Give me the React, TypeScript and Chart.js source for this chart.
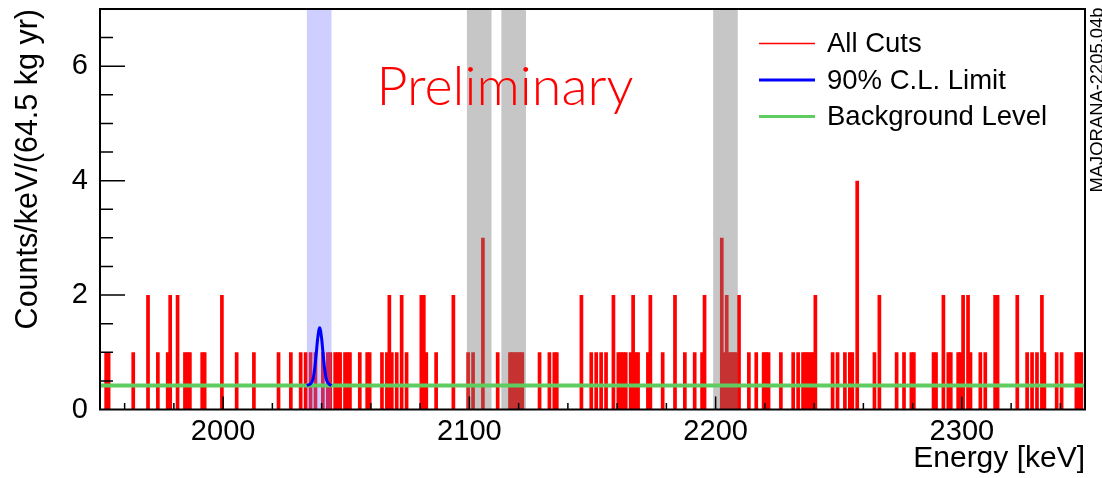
import React, { useEffect, useRef } from 'react';
import { Chart, registerables } from 'chart.js';

Chart.register(...registerables);

// ---------- data ----------
const xMin = 1950;
const xMax = 2350;
const yMin = 0;
const yMax = 7;
const xTickLabels = [2000, 2100, 2200, 2300];
const yTickLabels = [0, 2, 4, 6];

// energies (keV, lower bin edge) of 1-keV bins holding 1, 2, 3, 4 counts
const oneCountBins = [
  1952, 1953, 1963, 1973, 1977, 1984, 1985, 1986, 1991, 1992, 2005, 2012, 2022, 2027, 2031,
  2033, 2035, 2037, 2040, 2042, 2043, 2045, 2046, 2047, 2049, 2050, 2051, 2055, 2058, 2059,
  2064, 2066, 2068, 2070, 2074, 2082, 2086, 2099, 2101, 2111, 2116, 2117, 2118, 2119, 2120,
  2121, 2128, 2132, 2134, 2135, 2149, 2151, 2153, 2155, 2160, 2161, 2162, 2163, 2165, 2167,
  2168, 2172, 2178, 2187, 2191, 2194, 2203, 2205, 2206, 2207, 2208, 2213, 2216, 2219, 2220,
  2221, 2226, 2231, 2233, 2235, 2236, 2237, 2238, 2239, 2247, 2249, 2252, 2254, 2255, 2264,
  2273, 2276, 2279, 2280, 2288, 2289, 2294, 2295, 2298, 2299, 2303, 2307, 2309, 2326, 2328,
  2330, 2333, 2338, 2340, 2346, 2347, 2348,
];
const twoCountBins = [
  1969, 1978, 1981, 1999, 2067, 2072, 2080, 2081, 2093, 2145, 2158, 2166, 2173, 2183, 2195,
  2204, 2209, 2240, 2266, 2292, 2300, 2302, 2313, 2314, 2322, 2332,
];
const threeCountBins = [2105, 2202];
const fourCountBins = [2257];

const backgroundLevel = 0.42;

// 90% C.L. limit curve
const limitEnergies = [2034.0, 2035.5, 2036.5, 2037.2, 2037.8, 2038.4, 2039.2, 2040.0, 2040.6, 2041.2, 2041.9, 2042.9, 2044.0];
const limitCounts = [0.42, 0.45, 0.53, 0.72, 0.97, 1.24, 1.43, 1.24, 0.97, 0.72, 0.53, 0.45, 0.42];

const signalWindows = [[2034, 2044]];
const excludedWindows = [[2099, 2109], [2113, 2123], [2199, 2209]];

const legendLabels = ['All Cuts', '90% C.L. Limit', 'Background Level'];
const xTitle = 'Energy [keV]';
const yTitle = 'Counts/keV/(64.5 kg yr)';
const watermark = 'Preliminary';
const plotId = 'MAJORANA-2205.04b';

// ---------- styles ----------
const FONT = '"Liberation Sans", Arial, Helvetica, sans-serif';
const RED = '#ff0000';
const BLUE = '#0000ff';
const GREEN = '#5fcc5f';
const SIGNAL_FILL = 'rgba(120,120,255,0.36)';
const EXCLUDED_FILL = 'rgba(120,120,120,0.42)';

function buildHistogram() {
  const counts: Record<number, number> = {};
  oneCountBins.forEach((e) => (counts[e] = 1));
  twoCountBins.forEach((e) => (counts[e] = 2));
  threeCountBins.forEach((e) => (counts[e] = 3));
  fourCountBins.forEach((e) => (counts[e] = 4));
  const pts: { x: number; y: number }[] = [];
  for (let e = xMin; e < xMax; e++) {
    pts.push({ x: e + 0.5, y: counts[e] || 0 });
  }
  return pts;
}

export default function App() {
  const ref = useRef<HTMLCanvasElement | null>(null);

  useEffect(() => {
    const canvas = ref.current!;

    const bandsPlugin = {
      id: 'bands',
      afterDatasetDraw(chart: any, args: any) {
        if (args.index !== 0) return;
        const { ctx, chartArea, scales } = chart;
        const xs = scales.x;
        ctx.save();
        const drawBand = (w: number[], fill: string) => {
          const x1 = xs.getPixelForValue(w[0]);
          const x2 = xs.getPixelForValue(w[1]);
          ctx.fillStyle = fill;
          ctx.fillRect(x1, chartArea.top, x2 - x1, chartArea.bottom - chartArea.top);
        };
        signalWindows.forEach((w) => drawBand(w, SIGNAL_FILL));
        excludedWindows.forEach((w) => drawBand(w, EXCLUDED_FILL));
        ctx.restore();
      },
    };

    const decorPlugin = {
      id: 'decor',
      afterDraw(chart: any) {
        const { ctx, chartArea, scales } = chart;
        const xs = scales.x;
        const ys = scales.y;
        const { left, right, top, bottom } = chartArea;
        ctx.save();
        ctx.strokeStyle = '#000';
        ctx.lineWidth = 1.5;
        // x ticks
        ctx.beginPath();
        for (let v = 1960; v <= xMax; v += 20) {
          const px = xs.getPixelForValue(v);
          const len = v % 100 === 0 ? 13 : 6.5;
          ctx.moveTo(px, bottom);
          ctx.lineTo(px, bottom - len);
        }
        // y ticks
        for (let v = 0.5; v < yMax; v += 0.5) {
          const py = ys.getPixelForValue(v);
          const len = v % 2 === 0 ? 25 : 13;
          ctx.moveTo(left, py);
          ctx.lineTo(left + len, py);
        }
        ctx.stroke();
        // frame
        ctx.lineWidth = 2;
        ctx.strokeRect(left, top, right - left, bottom - top);

        // legend
        const rows = [43.5, 80, 116.5];
        const colors = [RED, BLUE, GREEN];
        const widths = [1.5, 3, 3];
        rows.forEach((y, i) => {
          ctx.beginPath();
          ctx.strokeStyle = colors[i];
          ctx.lineWidth = widths[i];
          ctx.moveTo(759, y);
          ctx.lineTo(815, y);
          ctx.stroke();
          ctx.fillStyle = '#000';
          ctx.font = `27.5px ${FONT}`;
          ctx.textAlign = 'left';
          ctx.textBaseline = 'middle';
          ctx.fillText(legendLabels[i], 827, y + 1);
        });

        // Preliminary
        const pf = (s: number) => `300 ${s}px Lato, "Open Sans", sans-serif`;
        ctx.font = pf(52);
        const w52 = ctx.measureText(watermark).width;
        const fs = (52 * 257) / w52;
        ctx.font = pf(fs);
        ctx.fillStyle = RED;
        ctx.textAlign = 'left';
        ctx.textBaseline = 'alphabetic';
        ctx.fillText(watermark, 376.5, 105);

        // plot id
        ctx.save();
        ctx.translate(1098, 100);
        ctx.rotate(-Math.PI / 2);
        ctx.font = `18.4px ${FONT}`;
        ctx.fillStyle = '#000';
        ctx.textAlign = 'center';
        ctx.textBaseline = 'middle';
        ctx.fillText(plotId, 0, 0);
        ctx.restore();
        ctx.restore();
      },
    };

    const chart = new Chart(canvas, {
      type: 'bar',
      data: {
        datasets: [
          {
            type: 'bar',
            label: legendLabels[0],
            data: buildHistogram(),
            backgroundColor: RED,
            borderWidth: 0,
            barPercentage: 1.5,
            categoryPercentage: 1,
            order: 3,
          } as any,
          {
            type: 'line',
            label: legendLabels[2],
            data: [
              { x: xMin, y: backgroundLevel },
              { x: xMax, y: backgroundLevel },
            ],
            borderColor: GREEN,
            borderWidth: 4,
            pointRadius: 0,
            fill: false,
            order: 2,
          } as any,
          {
            type: 'line',
            label: legendLabels[1],
            data: limitEnergies.map((e, i) => ({ x: e, y: limitCounts[i] })),
            borderColor: BLUE,
            borderWidth: 3,
            pointRadius: 0,
            fill: false,
            cubicInterpolationMode: 'monotone',
            order: 1,
          } as any,
        ],
      },
      options: {
        animation: false,
        responsive: false,
        devicePixelRatio: 1,
        layout: { padding: { left: 0, right: 17, top: 9, bottom: 0 } },
        plugins: { legend: { display: false }, tooltip: { enabled: false } },
        scales: {
          x: {
            type: 'linear',
            min: xMin,
            max: xMax,
            offset: false,
            grid: { display: false, drawTicks: false },
            border: { display: false },
            ticks: {
              autoSkip: false,
              maxRotation: 0,
              padding: 5,
              color: '#000',
              font: { family: FONT, size: 29 },
              callback: (v: any) => String(v),
            },
            title: {
              display: true,
              text: xTitle,
              align: 'end',
              color: '#000',
              font: { family: FONT, size: 30 },
              padding: { top: 0, bottom: 1 },
            },
            afterBuildTicks: (s: any) => {
              s.ticks = xTickLabels.map((v) => ({ value: v }));
            },
            afterFit: (s: any) => {
              s.height = 68.5;
              s.paddingLeft = 0;
              s.paddingRight = 0;
            },
          },
          y: {
            type: 'linear',
            min: yMin,
            max: yMax,
            grid: { display: false, drawTicks: false },
            border: { display: false },
            ticks: {
              padding: 12,
              color: '#000',
              font: { family: FONT, size: 29 },
              callback: (v: any) => String(v),
            },
            title: {
              display: true,
              text: yTitle,
              align: 'end',
              color: '#000',
              font: { family: FONT, size: 30.5 },
              padding: { top: 10, bottom: 0 },
            },
            afterBuildTicks: (s: any) => {
              s.ticks = yTickLabels.map((v) => ({ value: v }));
            },
            afterFit: (s: any) => {
              s.width = 100;
              s.paddingTop = 0;
              s.paddingBottom = 0;
            },
          },
        },
      } as any,
      plugins: [bandsPlugin, decorPlugin],
    });

    return () => chart.destroy();
  }, []);

  return (
    <div style={{ position: 'absolute', left: 0, top: 0, width: 1102, height: 478, background: '#fff' }}>
      <canvas ref={ref} width={1102} height={478} style={{ width: 1102, height: 478, display: 'block' }} />
    </div>
  );
}
